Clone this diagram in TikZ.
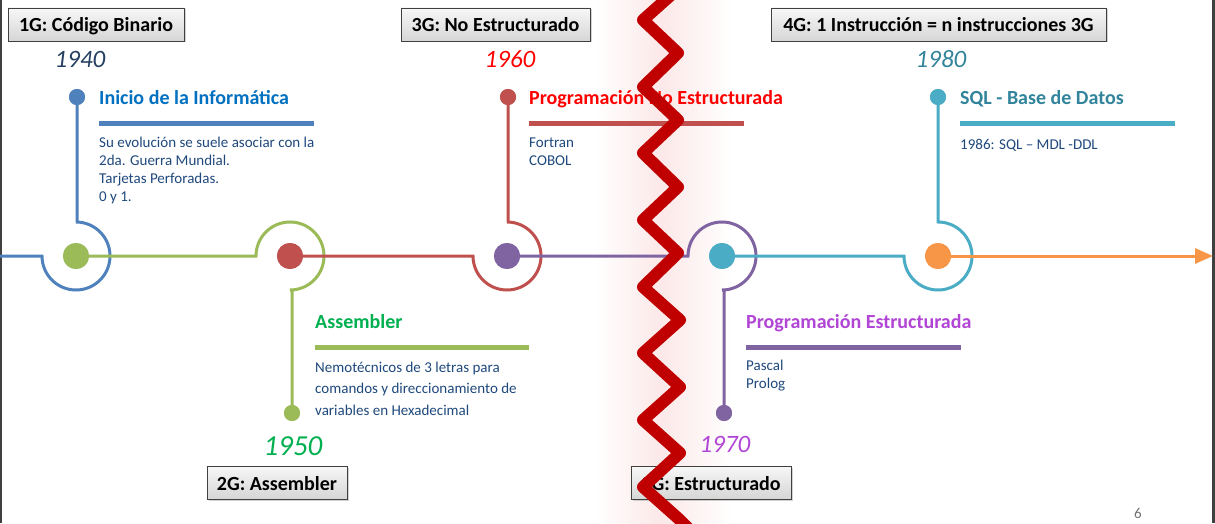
\documentclass[tikz,border=0pt]{standalone}
\usepackage{fontspec}
\setmainfont{Carlito}
\usetikzlibrary{arrows.meta,shadows}
\definecolor{cblue}{HTML}{4F81BD}
\definecolor{cgreen}{HTML}{9BBB59}
\definecolor{cred}{HTML}{C0504D}
\definecolor{cpurple}{HTML}{8064A2}
\definecolor{cteal}{HTML}{4BACC6}
\definecolor{corange}{HTML}{F79646}
\definecolor{bodyc}{HTML}{1F497D}
\definecolor{tblue}{HTML}{0070C0}
\definecolor{tred}{HTML}{FF0000}
\definecolor{tteal}{HTML}{31849B}
\definecolor{tgreen}{HTML}{00B050}
\definecolor{tviolet}{HTML}{B145D6}
\definecolor{ynavy}{HTML}{243F60}
\definecolor{zig}{HTML}{C00000}
\definecolor{glow}{RGB}{252,232,232}
\begin{document}
\begin{tikzpicture}[x=1pt,y=1pt,
  conn/.style={line width=3pt},
  bigdot/.style={circle, inner sep=0pt, minimum size=26pt},
  smalldot/.style={circle, inner sep=0pt, minimum size=16pt},
  genbox/.style={draw=black!75, line width=0.8pt, top color=gray!6, bottom color=gray!32,
    font=\bfseries\fontsize{20}{24}\selectfont, inner sep=0pt, minimum height=33pt,
    text height=15pt, text depth=0pt,
    drop shadow={opacity=0.35, shadow xshift=1.5pt, shadow yshift=-1.5pt}},
  ttl/.style={anchor=base west, font=\bfseries\fontsize{20}{24}\selectfont, inner sep=0pt},
  body/.style={anchor=base west, font=\fontsize{15}{18}\selectfont, text=bodyc, inner sep=0pt},
  yr/.style={anchor=base, font=\itshape\fontsize{25}{30}\selectfont, inner sep=0pt},
  bar/.style={line width=5pt}
]
\useasboundingbox (0,0) rectangle (1215,523);
\fill[white] (0,0) rectangle (1215,523);
% glow behind the zigzag
\fill[left color=white, right color=glow] (595,0) rectangle (661,523);
\fill[left color=glow, right color=white] (661,0) rectangle (732,523);
% screen edges
\fill[black!75] (0,0) rectangle (2,523);
\fill[black!75] (1212,0) rectangle (1215,523);

% big dots
\node[bigdot, fill=cgreen] (d1) at (76,267) {};
\node[bigdot, fill=cred] (d2) at (290,267) {};
\node[bigdot, fill=cpurple] (d3) at (507,267) {};
\node[bigdot, fill=cteal] (d4) at (722,267) {};
\node[bigdot, fill=corange] (d5) at (938,267) {};
% end dots
\node[smalldot, fill=cblue] (e1) at (77,426) {};
\node[smalldot, fill=cgreen] (e2) at (292,110) {};
\node[smalldot, fill=cred] (e3) at (508,426) {};
\node[smalldot, fill=cpurple] (e4) at (724,110) {};
\node[smalldot, fill=cteal] (e5) at (938,426) {};
\coordinate (start) at (0,267);
\coordinate (tip) at (1213,267);

% connectors
\draw[conn, cblue] (start) -- (42,267) arc[start angle=180, end angle=450, radius=34] -- (77,301) -- (e1.center);
\draw[conn, cgreen] (d1.center) -- (256,267) arc[start angle=180, end angle=-90, radius=34] -- (292,233) -- (e2.center);
\draw[conn, cred] (d2.center) -- (473,267) arc[start angle=180, end angle=450, radius=34] -- (508,301) -- (e3.center);
\draw[conn, cpurple] (d3.center) -- (688,267) arc[start angle=180, end angle=-90, radius=34] -- (724,233) -- (e4.center);
\draw[conn, cteal] (d4.center) -- (904,267) arc[start angle=180, end angle=450, radius=34] -- (e5.center);
\draw[conn, corange, -{Triangle[length=18pt,width=15pt]}] (d5.center) -- (tip);
% redraw dots on top
\foreach \n/\c in {d1/cgreen,d2/cred,d3/cpurple,d4/cteal,d5/corange}{\fill[\c] (\n.center) circle (13);}
\foreach \n/\c in {e1/cblue,e2/cgreen,e3/cred,e4/cpurple,e5/cteal}{\fill[\c] (\n.center) circle (8);}

% titles and bars
\node[ttl, text=tblue] (t1) at (99,418) {Inicio de la Informática};
\draw[bar, cblue] (99,399) -- (314,399);
\node[body] (b1a) at (99,375) {Su evolución se suele asociar con la};
\node[body] (b1b) at (99,357) {2da. Guerra Mundial.};
\node[body] (b1c) at (99,339.5) {Tarjetas Perforadas.};
\node[body] (b1d) at (99,321.5) {0 y 1.};

\node[ttl, text=tred] (t3) at (529,418) {Programación No Estructurada};
\draw[bar, cred] (529,399) -- (744,399);
\node[body] (b3a) at (529,375) {Fortran};
\node[body] (b3b) at (529,357) {COBOL};

\node[ttl, text=tteal] (t5) at (960,418) {SQL - Base de Datos};
\draw[bar, cteal] (960,399) -- (1175,399);
\node[body] (b5a) at (960,373) {1986: SQL – MDL -DDL};

\node[ttl, text=tgreen] (t2) at (315,195) {Assembler};
\draw[bar, cgreen] (315,176) -- (529,176);
\node[body] (b2a) at (315,151) {Nemotécnicos de 3 letras para};
\node[body] (b2b) at (315,130) {comandos y direccionamiento de};
\node[body] (b2c) at (315,108) {variables en Hexadecimal};

\node[ttl, text=tviolet] (t4) at (746,195) {Programación Estructurada};
\draw[bar, cpurple] (746,176) -- (961,176);
\node[body] (b4a) at (746,153) {Pascal};
\node[body] (b4b) at (746,135) {Prolog};

% years
\node[yr, text=ynavy] (y1) at (80,455) {1940};
\node[yr, text=tred] (y3) at (510,455) {1960};
\node[yr, text=tteal] (y5) at (941,455) {1980};
\node[yr, text=tgreen, font=\itshape\fontsize{29}{34}\selectfont] (y2) at (293,68) {1950};
\node[yr, text=tviolet] (y4) at (725,71) {1970};

% generation boxes
\node[genbox, minimum width=176pt] (g1) at (96,498.5) {1G: Código Binario};
\node[genbox, minimum width=189pt] (g3) at (495.5,498.5) {3G: No Estructurado};
\node[genbox, minimum width=335pt] (g4) at (938.5,498.5) {4G: 1 Instrucción = n instrucciones 3G};
\node[genbox, minimum width=140pt] (g2) at (277,40.5) {2G: Assembler};
\node[genbox, minimum width=160pt] (g5) at (711,40.5) {3G: Estructurado};

% zigzag
\draw[line width=12pt, zig, line join=round, line cap=butt]
  (680,536) -- (643,503) -- (678,470) -- (643,436) -- (678,403) -- (643,370) -- (678,336)
  -- (643,303) -- (678,270) -- (643,236) -- (680,203) -- (643,170) -- (680,136)
  -- (643,103) -- (680,70) -- (643,36) -- (680,3) -- (695,-12);

% page number
\node[anchor=base, text=black!55, font=\fontsize{15}{18}\selectfont, inner sep=0pt] (pg) at (1138,5) {6};
\end{tikzpicture}
\end{document}
